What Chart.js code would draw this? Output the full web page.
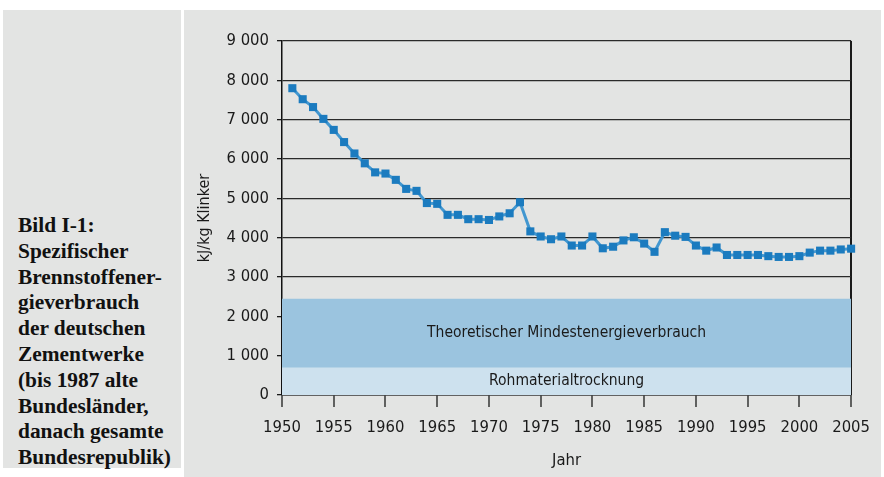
<!DOCTYPE html>
<html>
<head>
<meta charset="utf-8">
<script src="https://cdn.jsdelivr.net/npm/chart.js@4/dist/chart.umd.min.js"></script>
<style>
html, body { margin: 0; padding: 0; background: #fff; width: 884px; height: 477px; overflow: hidden; }
#left { position: absolute; left: 3px; top: 10px; width: 178px; height: 458px; background: #e3e4e3; }
#cap { position: absolute; left: 18px; top: 213px; font: bold 21.4px 'Liberation Serif', 'Times New Roman', serif; line-height: 25.8px; color: #111; white-space: nowrap; }
#right { position: absolute; left: 184px; top: 10px; width: 697px; height: 467px; background: #e3e4e3; }
canvas { position: absolute; left: 0; top: 0; }
</style>
</head>
<body>
<div id="left"></div>
<div id="cap">Bild I-1:<br>Spezifischer<br>Brennstoffener-<br>gieverbrauch<br>der deutschen<br>Zementwerke<br>(bis 1987 alte<br>Bundesländer,<br>danach gesamte<br>Bundesrepublik)</div>
<div id="right"><canvas id="myChart" width="697" height="467"></canvas></div>
<script>
// Brennstoffenergieverbrauch in kJ/kg Klinker
var years = [1951, 1952, 1953, 1954, 1955, 1956, 1957, 1958, 1959, 1960,
  1961, 1962, 1963, 1964, 1965, 1966, 1967, 1968, 1969, 1970,
  1971, 1972, 1973, 1974, 1975, 1976, 1977, 1978, 1979, 1980,
  1981, 1982, 1983, 1984, 1985, 1986, 1987, 1988, 1989, 1990,
  1991, 1992, 1993, 1994, 1995, 1996, 1997, 1998, 1999, 2000,
  2001, 2002, 2003, 2004, 2005]
var verbrauch = [7800, 7520, 7320, 7020, 6740, 6430, 6140, 5890, 5660, 5630,
  5470, 5240, 5190, 4880, 4860, 4580, 4580, 4470, 4470, 4450,
  4540, 4620, 4900, 4160, 4030, 3960, 4030, 3800, 3800, 4030,
  3730, 3770, 3930, 4010, 3850, 3640, 4140, 4050, 4020, 3800,
  3670, 3750, 3560, 3560, 3560, 3560, 3530, 3510, 3510, 3530,
  3620, 3670, 3670, 3700, 3720]

// Bänder (Obergrenzen) und ihre Beschriftung
var bandNames = ['Theoretischer Mindestenergieverbrauch', 'Rohmaterialtrocknung']
var bandTops = [2450, 700]
var bandColors = ['#9bc4df', '#cde1ee']

var xRange = [1950, 2005]
var yRange = [0, 9000]

var FONT = "'Liberation Sans Narrow', 'DejaVu Sans Condensed', 'Liberation Sans', sans-serif"
var INK = '#1a1a1a'

function band(i) {
  return {
    data: [{x: xRange[0], y: bandTops[i]}, {x: xRange[1], y: bandTops[i]}],
    backgroundColor: bandColors[i],
    borderColor: 'rgba(0,0,0,0)',
    borderWidth: 0,
    pointRadius: 0,
    fill: 'origin'
  }
}

var bandText = {
  id: 'bandText',
  afterDatasetsDraw(chart) {
    var ctx = chart.ctx, area = chart.chartArea, y = chart.scales.y
    var cx = (area.left + area.right) / 2
    ctx.save()
    ctx.font = '15.5px ' + FONT
    ctx.fillStyle = INK
    ctx.textAlign = 'center'
    ctx.textBaseline = 'middle'
    ctx.fillText(bandNames[0], cx, y.getPixelForValue((bandTops[0] + bandTops[1]) / 2))
    ctx.fillText(bandNames[1], cx, y.getPixelForValue(bandTops[1] / 2))
    ctx.restore()
  }
}

var ctx = document.getElementById('myChart').getContext('2d')
new Chart(ctx, {
  type: 'line',
  data: {
    datasets: [
      {
        data: years.map(function (yr, i) { return {x: yr, y: verbrauch[i]} }),
        borderColor: '#4297d0',
        borderWidth: 3,
        pointStyle: 'rect',
        pointRadius: 5.7,
        pointBackgroundColor: '#1b7bbf',
        pointBorderColor: '#1b7bbf',
        pointBorderWidth: 0,
        fill: false,
        clip: false
      },
      band(1),
      band(0)
    ]
  },
  options: {
    responsive: false,
    animation: false,
    events: [],
    layout: {padding: {left: 0, right: 24, top: 31, bottom: 0}},
    plugins: {legend: {display: false}, tooltip: {enabled: false}},
    scales: {
      x: {
        type: 'linear',
        min: xRange[0],
        max: xRange[1],
        z: 1,
        afterFit: function (s) { s.height = 82 },
        ticks: {
          stepSize: 5,
          padding: 11,
          color: INK,
          font: {family: FONT, size: 16.5},
          callback: function (v) { return String(v) }
        },
        grid: {
          color: function (c) { return c.tick && c.tick.value === xRange[1] ? '#1a1a1a' : 'rgba(0,0,0,0)' },
          lineWidth: 2,
          tickColor: '#1a1a1a',
          tickWidth: 1.3,
          tickLength: 12
        },
        border: {display: true, color: '#111', width: 1.5},
        title: {display: true, text: 'Jahr', color: INK, font: {family: FONT, size: 16.5}, padding: {top: 0, bottom: 6}}
      },
      y: {
        min: yRange[0],
        max: yRange[1],
        afterFit: function (s) { s.width = 98 },
        ticks: {
          stepSize: 1000,
          padding: 8,
          color: INK,
          font: {family: FONT, size: 16.5},
          callback: function (v) { return v === 0 ? '0' : (v / 1000) + ' 000' }
        },
        grid: {color: '#2a2a2a', lineWidth: 1.3, tickColor: '#1a1a1a', tickLength: 5},
        border: {display: true, color: '#111', width: 1.5},
        title: {display: true, text: 'kJ/kg Klinker', color: INK, font: {family: FONT, size: 16}, padding: {top: 11, bottom: 0}}
      }
    }
  },
  plugins: [bandText]
})
</script>
</body>
</html>
